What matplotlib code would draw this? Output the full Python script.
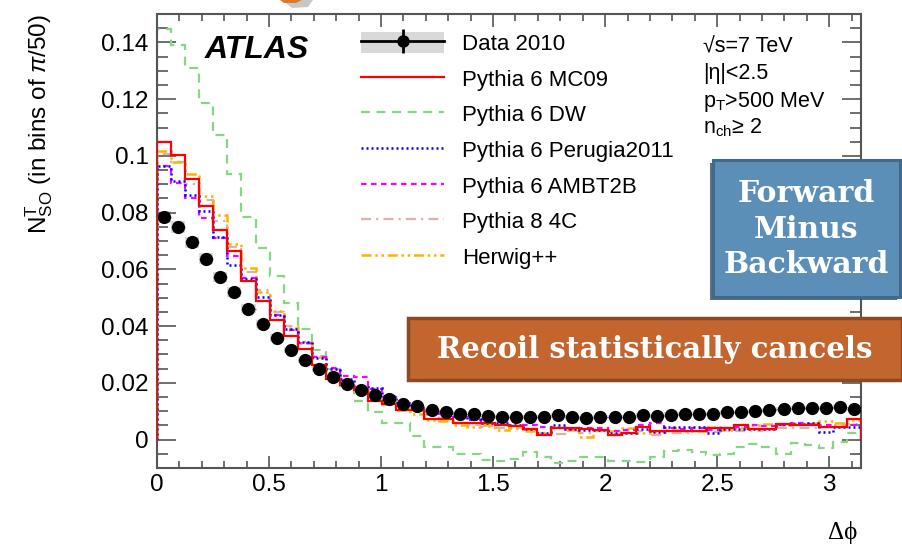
import numpy as np
import matplotlib
matplotlib.use('Agg')
import matplotlib.pyplot as plt
from matplotlib.patches import Rectangle, Patch, Polygon
from matplotlib.lines import Line2D
from matplotlib.legend_handler import HandlerTuple
from matplotlib.ticker import MultipleLocator, FuncFormatter

plt.rcParams['font.family'] = ['Liberation Sans', 'DejaVu Sans']
plt.rcParams['mathtext.fontset'] = 'custom'
plt.rcParams['mathtext.rm'] = 'Liberation Sans'
plt.rcParams['mathtext.it'] = 'Liberation Sans:italic'
plt.rcParams['mathtext.bf'] = 'Liberation Sans:bold'

# 50 bins in delta phi, 0..pi
n_bins = 50

data_2010 = [0.0784, 0.0748, 0.0695, 0.0638, 0.0573, 0.0521, 0.0461, 0.0408, 0.0358, 0.0316,
             0.0280, 0.0248, 0.0220, 0.0195, 0.0174, 0.0156, 0.0142, 0.0126, 0.0117, 0.0105,
             0.0097, 0.0092, 0.0090, 0.0083, 0.0080, 0.0080, 0.0080, 0.0080, 0.0086, 0.0078,
             0.0075, 0.0080, 0.0080, 0.0080, 0.0086, 0.0083, 0.0088, 0.0090, 0.0091, 0.0090,
             0.0097, 0.0097, 0.0101, 0.0105, 0.0107, 0.0111, 0.0111, 0.0111, 0.0116, 0.0108]
data_syst = [0.0022, 0.0021, 0.0020, 0.0019, 0.0018, 0.0017, 0.0016, 0.0014, 0.0013, 0.0012,
             0.0011, 0.0011, 0.0010, 0.0010, 0.0009, 0.0009, 0.0009, 0.0008, 0.0008, 0.0008,
             0.0008, 0.0008, 0.0008, 0.0008, 0.0008, 0.0008, 0.0008, 0.0008, 0.0008, 0.0008,
             0.0008, 0.0008, 0.0008, 0.0008, 0.0008, 0.0008, 0.0008, 0.0008, 0.0008, 0.0008,
             0.0008, 0.0008, 0.0008, 0.0008, 0.0008, 0.0008, 0.0008, 0.0008, 0.0008, 0.0008]

mc09 = [0.1050, 0.1002, 0.0918, 0.0824, 0.0739, 0.0664, 0.0558, 0.0489, 0.0423, 0.0366,
        0.0319, 0.0264, 0.0213, 0.0192, 0.0174, 0.0135, 0.0127, 0.0106, 0.0103, 0.0073,
        0.0074, 0.0058, 0.0058, 0.0057, 0.0052, 0.0047, 0.0039, 0.0016, 0.0041, 0.0040,
        0.0039, 0.0035, 0.0018, 0.0024, 0.0044, 0.0031, 0.0030, 0.0030, 0.0029, 0.0042,
        0.0042, 0.0051, 0.0039, 0.0039, 0.0055, 0.0053, 0.0053, 0.0043, 0.0043, 0.0071]

dw = [0.1447, 0.1390, 0.1310, 0.1187, 0.1075, 0.0935, 0.0785, 0.0675, 0.0575, 0.0481,
      0.0390, 0.0315, 0.0250, 0.0190, 0.0135, 0.0098, 0.0057, 0.0057, 0.0013, -0.0025,
      -0.0025, -0.0050, -0.0052, -0.0072, -0.0076, -0.0070, -0.0043, -0.0060, -0.0082, -0.0075,
      -0.0060, -0.0063, -0.0075, -0.0075, -0.0078, -0.0060, -0.0040, -0.0035, -0.0043, -0.0055,
      -0.0049, -0.0025, -0.0016, -0.0027, -0.0050, -0.0011, -0.0019, -0.0030, -0.0008, 0.0022]

perugia = [0.0966, 0.0910, 0.0861, 0.0806, 0.0715, 0.0617, 0.0567, 0.0504, 0.0440, 0.0390,
           0.0343, 0.0286, 0.0248, 0.0215, 0.0187, 0.0183, 0.0154, 0.0130, 0.0112, 0.0095,
           0.0095, 0.0083, 0.0073, 0.0057, 0.0057, 0.0051, 0.0039, 0.0024, 0.0051, 0.0039,
           0.0033, 0.0033, 0.0022, 0.0022, 0.0036, 0.0028, 0.0045, 0.0045, 0.0045, 0.0024,
           0.0039, 0.0039, 0.0037, 0.0037, 0.0055, 0.0055, 0.0057, 0.0028, 0.0043, 0.0045]

ambt2b = [0.0966, 0.0905, 0.0850, 0.0780, 0.0712, 0.0648, 0.0570, 0.0490, 0.0440, 0.0385,
          0.0340, 0.0290, 0.0252, 0.0225, 0.0219, 0.0180, 0.0150, 0.0128, 0.0110, 0.0098,
          0.0090, 0.0080, 0.0070, 0.0060, 0.0052, 0.0048, 0.0050, 0.0045, 0.0040, 0.0038,
          0.0042, 0.0040, 0.0030, 0.0035, 0.0050, 0.0057, 0.0040, 0.0038, 0.0042, 0.0035,
          0.0040, 0.0045, 0.0050, 0.0048, 0.0052, 0.0058, 0.0055, 0.0050, 0.0045, 0.0052]

py8_4c = [0.1005, 0.0977, 0.0900, 0.0845, 0.0770, 0.0680, 0.0589, 0.0526, 0.0450, 0.0400,
          0.0345, 0.0295, 0.0250, 0.0205, 0.0180, 0.0160, 0.0140, 0.0115, 0.0100, 0.0085,
          0.0075, 0.0060, 0.0050, 0.0045, 0.0042, 0.0040, 0.0035, 0.0025, 0.0020, 0.0030,
          0.0025, 0.0030, 0.0020, 0.0025, 0.0030, 0.0018, 0.0022, 0.0025, 0.0030, 0.0028,
          0.0032, 0.0030, 0.0030, 0.0035, 0.0040, 0.0042, 0.0040, 0.0045, 0.0050, 0.0055]

herwig = [0.1017, 0.0977, 0.0936, 0.0860, 0.0792, 0.0691, 0.0605, 0.0520, 0.0455, 0.0395,
          0.0340, 0.0290, 0.0235, 0.0195, 0.0175, 0.0150, 0.0125, 0.0105, 0.0090, 0.0070,
          0.0065, 0.0050, 0.0045, 0.0050, 0.0035, 0.0040, 0.0030, 0.0025, 0.0045, 0.0035,
          0.0008, 0.0035, 0.0030, 0.0040, 0.0025, 0.0030, 0.0035, 0.0030, 0.0032, 0.0045,
          0.0035, 0.0040, 0.0050, 0.0055, 0.0050, 0.0060, 0.0058, 0.0065, 0.0060, 0.0068]

edges = np.linspace(0, np.pi, n_bins + 1)
centers = 0.5 * (edges[:-1] + edges[1:])
widths = np.diff(edges)

fig = plt.figure(figsize=(9.02, 5.45), dpi=100)
ax = fig.add_axes([0.174, 0.1413, 0.7805, 0.833])

# systematics band for data
ax.bar(centers, 2 * np.array(data_syst), width=widths, bottom=np.array(data_2010) - np.array(data_syst),
       color='#d9d9d9', edgecolor='none', zorder=1)

# MC curves
ax.stairs(dw, edges, color='#85d685', lw=1.6, ls=(0, (4, 3)), zorder=2)
ax.stairs(py8_4c, edges, color='#d9b3aa', lw=1.6, ls=(0, (4.5, 2.3, 1, 2.3)), zorder=3)
ax.stairs(herwig, edges, color='#ffb300', lw=1.8, ls=(0, (4, 1.5, 1, 1.5, 1, 1.5)), zorder=4)
ax.stairs(ambt2b, edges, color='#ff00ff', lw=1.6, ls=(0, (2.5, 2)), zorder=5)
ax.stairs(perugia, edges, color='#0000ff', lw=1.8, ls=(0, (0.8, 1.2)), zorder=6)
ax.stairs(mc09, edges, color='#ff0000', lw=1.6, zorder=7)

# data points
ax.errorbar(centers, data_2010, xerr=widths / 2, fmt='o', color='black', ms=8.5,
            ecolor='#777777', elinewidth=1, zorder=8)

ax.set_xlim(0, np.pi)
ax.set_ylim(-0.01, 0.15)

fmt = FuncFormatter(lambda v, p: '%g' % round(v, 4))
ax.xaxis.set_major_locator(MultipleLocator(0.5))
ax.xaxis.set_minor_locator(MultipleLocator(0.1))
ax.yaxis.set_major_locator(MultipleLocator(0.02))
ax.yaxis.set_minor_locator(MultipleLocator(0.005))
ax.xaxis.set_major_formatter(fmt)
ax.yaxis.set_major_formatter(fmt)

ax.tick_params(axis='both', which='both', direction='in', top=True, right=True,
               color='#555555', width=1.2, labelsize=17.5, labelcolor='black')
ax.tick_params(axis='y', which='major', length=14, pad=6)
ax.tick_params(axis='y', which='minor', length=8)
ax.tick_params(axis='x', which='major', length=9, pad=4)
ax.tick_params(axis='x', which='minor', length=5)
for sp in ax.spines.values():
    sp.set_color('#555555')
    sp.set_linewidth(1.5)

ax.set_ylabel(r'N$^{\mathrm{T}}_{\mathrm{SO}}$ (in bins of $\pi$/50)', fontsize=17.5, loc='top')
ax.yaxis.set_label_coords(-0.145, 1.0)
ax.set_xlabel('Δϕ', fontsize=18, family=['Liberation Serif', 'DejaVu Serif'], loc='right')
ax.xaxis.label.set_va('center')
ax.xaxis.set_label_coords(0.995, -0.143)

# ATLAS label and cuts
ax.text(0.068, 0.903, 'ATLAS', transform=ax.transAxes, fontsize=23,
        fontweight='bold', fontstyle='italic', va='baseline')
cut_text = ['√s=7 TeV', '|η|<2.5', r'p$_{\mathrm{T}}$>500 MeV', r'n$_{\mathrm{ch}}$≥ 2']
cut_y = [0.916, 0.857, 0.795, 0.736]
for t, yy in zip(cut_text, cut_y):
    ax.text(0.7756, yy, t, transform=ax.transAxes, fontsize=15.5, va='baseline')

# legend
data_handle = (Patch(facecolor='#d9d9d9', edgecolor='none'),
               Line2D([], [], color='black', lw=2, marker='o', ms=8),
               Line2D([], [], color='black', marker='|', ms=17, mew=2, ls='none'))
handles = [data_handle,
           Line2D([], [], color='#ff0000', lw=1.6),
           Line2D([], [], color='#85d685', lw=1.6, ls=(0, (4, 3))),
           Line2D([], [], color='#0000ff', lw=1.8, ls=(0, (0.8, 1.2))),
           Line2D([], [], color='#ff00ff', lw=1.6, ls=(0, (2.5, 2))),
           Line2D([], [], color='#d9b3aa', lw=1.6, ls=(0, (4.5, 2.3, 1, 2.3))),
           Line2D([], [], color='#ffb300', lw=1.8, ls=(0, (4, 1.5, 1, 1.5, 1, 1.5)))]
labels = ['Data 2010', 'Pythia 6 MC09', 'Pythia 6 DW', 'Pythia 6 Perugia2011',
          'Pythia 6 AMBT2B', 'Pythia 8 4C', 'Herwig++']
fig.legend(handles, labels, loc='upper left', bbox_to_anchor=(361 / 902, 1 - 31.8 / 545),
           bbox_transform=fig.transFigure, frameon=False, fontsize=16,
           handlelength=3.74, handleheight=1.1, handletextpad=0.81, labelspacing=0.56,
           borderpad=0, borderaxespad=0,
           handler_map={tuple: HandlerTuple(ndivide=1, pad=0)})

# slide annotations
fig.add_artist(Polygon([[282 / 902, 1.0], [313 / 902, 1.0], [308 / 902, 1 - 7 / 545], [292 / 902, 1 - 8 / 545]],
                       closed=True, transform=fig.transFigure, facecolor='#b0b0b0', edgecolor='none', alpha=0.7))
fig.add_artist(Polygon([[280 / 902, 1.0], [302 / 902, 1.0], [296 / 902, 1 - 3 / 545], [284 / 902, 1 - 3 / 545]],
                       closed=True, transform=fig.transFigure, facecolor='#e0782c', edgecolor='none'))

fig.add_artist(Rectangle((710 / 902, 1 - 300 / 545), 187 / 902, 137 / 545, transform=fig.transFigure,
                         facecolor='#2f4f6a', edgecolor='none', alpha=0.8))
fig.add_artist(Rectangle((713 / 902, 1 - 297 / 545), 187 / 902, 137 / 545, transform=fig.transFigure,
                         facecolor='#5b8fb8', edgecolor='#41698a', lw=2.2))
fig.text(806.5 / 902, 1 - 229 / 545, 'Forward\nMinus\nBackward', ha='center', va='center',
         color='white', fontsize=21.5, fontweight='bold', family='DejaVu Serif', linespacing=1.3)

fig.add_artist(Rectangle((408 / 902, 1 - 380 / 545), 494 / 902, 62 / 545, transform=fig.transFigure,
                         facecolor='#c2652f', edgecolor='#8c4a22', lw=2.5))
fig.text(655 / 902, 1 - 350 / 545, 'Recoil statistically cancels', ha='center', va='center',
         color='white', fontsize=21, fontweight='bold', family='DejaVu Serif')

fig.savefig('out.png', dpi=100)
